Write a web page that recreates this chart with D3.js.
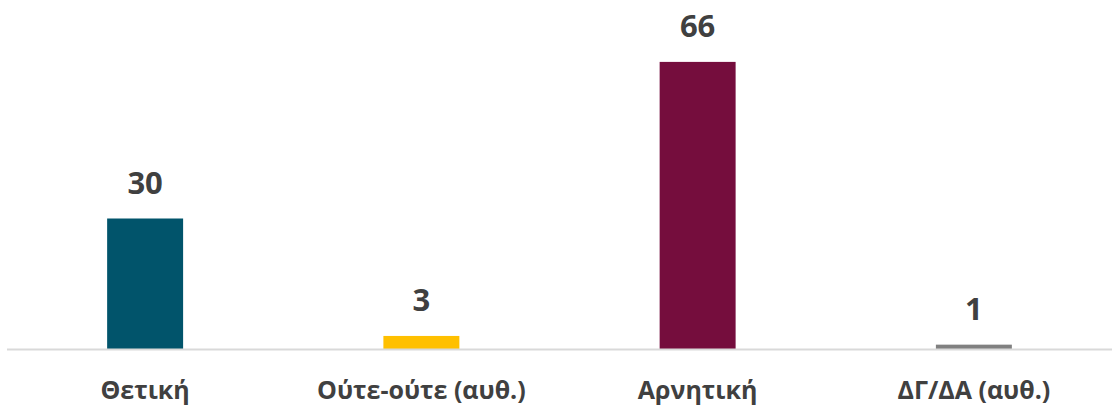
<!DOCTYPE html>
<html>
<head>
<meta charset="utf-8">
<script src="https://cdn.jsdelivr.net/npm/d3@7"></script>
<style>
  body { margin: 0; background: #fff; }
  svg { display: block; }
</style>
</head>
<body>
<div id="chart"></div>
<script>
// chart data
var categories = ["Θετική", "Ούτε-ούτε (αυθ.)", "Αρνητική", "ΔΓ/ΔΑ (αυθ.)"];
var values = [30, 3, 66, 1];
var colors = ["#01546B", "#FFC000", "#750D3D", "#808080"];

var width = 1114,
    height = 411;
var margin = { top: 0, right: 2, bottom: 62, left: 7 };
var baseY = height - margin.bottom; // 349

var svg = d3.select("#chart")
    .append("svg")
    .attr("width", width)
    .attr("height", height);

var x = d3.scaleBand()
    .domain(categories)
    .range([margin.left, width - margin.right])
    .paddingInner(0.725)
    .paddingOuter(0.3625);

var y = d3.scaleLinear()
    .domain([0, 80])
    .range([baseY, baseY - 80 * 4.35]);

// bars
svg.selectAll("rect.bar")
    .data(values)
    .enter()
    .append("rect")
    .attr("class", "bar")
    .attr("x", function (d, i) { return x(categories[i]); })
    .attr("y", function (d) { return y(d); })
    .attr("width", x.bandwidth())
    .attr("height", function (d) { return baseY - y(d); })
    .attr("fill", function (d, i) { return colors[i]; });

// baseline
svg.append("line")
    .attr("x1", margin.left)
    .attr("x2", width - margin.right)
    .attr("y1", baseY + 0.5)
    .attr("y2", baseY + 0.5)
    .attr("stroke", "#d9d9d9")
    .attr("stroke-width", 2);

// value labels
svg.selectAll("text.val")
    .data(values)
    .enter()
    .append("text")
    .attr("class", "val")
    .attr("x", function (d, i) { return x(categories[i]) + x.bandwidth() / 2; })
    .attr("y", function (d) { return y(d) - 25; })
    .attr("text-anchor", "middle")
    .attr("font-family", "'Open Sans', sans-serif")
    .attr("font-weight", "bold")
    .attr("font-size", "31px")
    .attr("fill", "#404040")
    .text(function (d) { return d; });

// category labels
svg.selectAll("text.cat")
    .data(categories)
    .enter()
    .append("text")
    .attr("class", "cat")
    .attr("x", function (d) { return x(d) + x.bandwidth() / 2; })
    .attr("y", baseY + 50)
    .attr("text-anchor", "middle")
    .attr("font-family", "'Open Sans', sans-serif")
    .attr("font-weight", "bold")
    .attr("font-size", "25px")
    .attr("fill", "#404040")
    .text(function (d) { return d; });
</script>
</body>
</html>
